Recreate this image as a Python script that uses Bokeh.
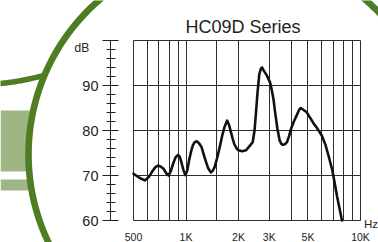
import math
import numpy as np
from bokeh.plotting import figure
from bokeh.models import (LinearAxis, LogAxis, FixedTicker, SingleIntervalTicker, Label,
                          PolyAnnotation, Range1d, Grid)
from bokeh.embed import file_html
from bokeh.resources import INLINE

# ---- data ----
freq_hz = [500, 540, 580, 610, 636, 665, 690, 715, 743, 770, 795, 818, 843, 870,
           900, 920, 940, 965, 990, 1015, 1040, 1070, 1094, 1120, 1152, 1190,
           1228, 1260, 1295, 1340, 1387, 1420, 1460, 1510, 1560, 1610, 1660,
           1720, 1765, 1810, 1850, 1890, 1950, 2000, 2100, 2210, 2330, 2410,
           2470, 2510, 2570, 2630, 2690, 2730, 2800, 2910, 3030, 3100, 3170,
           3240, 3340, 3440, 3520, 3600, 3700, 3790, 3900, 4000, 4150, 4300,
           4450, 4550, 4700, 4900, 5150, 5400, 5600, 6000, 6300, 6600, 6900,
           7100, 7350, 7600, 7830]
level_db = [70.4, 69.5, 68.9, 69.6, 70.7, 71.8, 72.2, 72.0, 71.5, 70.5, 70.0,
            71.0, 72.6, 74.0, 74.6, 74.2, 73.0, 71.3, 70.1, 71.0, 73.3, 75.4,
            76.7, 77.4, 77.6, 77.1, 76.3, 74.8, 73.3, 71.6, 70.7, 71.0, 71.9,
            74.0, 76.3, 78.8, 80.7, 82.2, 81.2, 79.6, 78.2, 77.0, 76.0, 75.6,
            75.4, 75.6, 76.7, 77.4, 80.0, 83.3, 88.5, 92.5, 93.8, 94.0, 93.2,
            92.2, 90.7, 89.0, 87.0, 84.1, 80.4, 77.8, 77.0, 76.8, 77.0, 77.4,
            78.8, 80.4, 82.0, 83.3, 84.6, 85.0, 84.6, 84.1, 82.8, 81.5, 80.7,
            78.9, 76.8, 74.0, 71.1, 68.5, 65.2, 62.5, 60.0]

x_major = [500, 1000, 2000, 3000, 5000, 10000]
x_major_labels = ["500", "1K", "2K", "3K", "5K", "10K"]
x_minor = [600, 700, 800, 900, 1500, 4000, 6000, 7000, 8000, 9000]
y_lines = [60, 70, 80, 90, 100]
title_text = "HC09D Series"
x_unit = "Hz"
y_unit = "dB"

FONT = "Liberation Sans"
INK = "#222222"
GRID = "#2e2e2e"
DARK_GREEN = "#4f7d24"
LIGHT_GREEN = "#9db684"

# ---- layout (pixel geometry of the reference) ----
W, H = 378, 242
PX_LEFT, PX_RIGHT = 133, 360    # x of 500 Hz and 10 kHz
PY_TOP, PY_BOT = 40, 220        # y of 100 dB and 60 dB
dec = (PX_RIGHT - PX_LEFT) / math.log10(10000 / 500)
x0 = 10 ** (math.log10(500) - PX_LEFT / dec)
x1 = 10 ** (math.log10(10000) + (W - PX_RIGHT) / dec)
ppd = (PY_BOT - PY_TOP) / 40.0
y0 = 60 - (H - PY_BOT) / ppd
y1 = 100 + PY_TOP / ppd
yaxis_x = 10 ** (math.log10(500) - (PX_LEFT - 110) / dec)

p = figure(width=W, height=H, x_axis_type="log",
           x_range=Range1d(x0, x1), y_range=Range1d(y0, y1),
           x_axis_location=None, y_axis_location=None,
           output_backend="svg", toolbar_location=None,
           min_border_left=0, min_border_right=0, min_border_top=0, min_border_bottom=0)
p.outline_line_color = None
p.background_fill_color = "white"
p.border_fill_color = "white"
p.renderers = [r for r in p.renderers if not isinstance(r, Grid)]
p.center = [c for c in p.center if not isinstance(c, Grid)]

# grids limited to the chart box
xt = FixedTicker(ticks=x_major, minor_ticks=x_minor)
has_cross = "cross_bounds" in Grid.properties()
xg = Grid(dimension=0, ticker=xt,
          grid_line_color=GRID, grid_line_width=1,
          minor_grid_line_color=GRID, minor_grid_line_width=1)
yg = Grid(dimension=1, ticker=FixedTicker(ticks=y_lines),
          grid_line_color=GRID, grid_line_width=1)
if has_cross:
    xg.cross_bounds = (60, 100)
    yg.cross_bounds = (500, 10000)
p.add_layout(xg, "center")
p.add_layout(yg, "center")
if not has_cross:
    allx = x_major + x_minor
    p.segment(x0=allx, y0=[60] * len(allx), x1=allx, y1=[100] * len(allx),
              line_color=GRID, line_width=1)
    p.segment(x0=[500] * len(y_lines), y0=y_lines, x1=[10000] * len(y_lines), y1=y_lines,
              line_color=GRID, line_width=1)
    xg.visible = False
    yg.visible = False

# x axis: labels only, at the 60 dB line
xa = LogAxis(ticker=xt, fixed_location=60, bounds=(500, 10000))
xa.major_label_overrides = {float(v): s for v, s in zip(x_major, x_major_labels)}
xa.axis_line_color = None
xa.major_tick_line_color = None
xa.minor_tick_line_color = None
xa.major_tick_out = 0
xa.major_tick_in = 0
xa.minor_tick_out = 0
xa.minor_tick_in = 0
xa.major_label_standoff = 10
xa.major_label_text_font = FONT
xa.major_label_text_font_size = "10.5px"
xa.major_label_text_color = INK
p.add_layout(xa, "below")

# y axis, detached to the left of the chart box
ya = LinearAxis(ticker=SingleIntervalTicker(interval=10, num_minor_ticks=5),
                fixed_location=yaxis_x, bounds=(60, 100))
ya.major_label_overrides = {100: ""}
ya.axis_line_color = INK
ya.axis_line_width = 1
ya.major_tick_line_color = INK
ya.minor_tick_line_color = INK
ya.major_tick_in = 8
ya.major_tick_out = 8
ya.minor_tick_in = 5
ya.minor_tick_out = 4
ya.major_label_standoff = 4
ya.major_label_text_font = FONT
ya.major_label_text_font_size = "14.5px"
ya.major_label_text_color = INK
p.add_layout(ya, "left")

# response curve
p.line(freq_hz, level_db, line_width=2.6, line_color="#111111",
       line_join="round", line_cap="round")


# ---- decorations (screen units: from frame left / frame bottom) ----
def sx(px):
    return [float(v) for v in px]


def sy(py):
    return [H - float(v) for v in py]


for (ya0, ya1) in [(110, 171), (179, 190)]:
    xs = [0, 30, 30, 0]
    ys = [ya0, ya0, ya1, ya1]
    p.add_layout(PolyAnnotation(xs=sx(xs), ys=sy(ys), xs_units="screen", ys_units="screen",
                                fill_color=LIGHT_GREEN, fill_alpha=1.0, line_color=None,
                                level="underlay"))

cx, cy, r, half = 232.0, 154.0, 204.0, 3.3
th = np.radians(np.linspace(30, 265, 220))
ox = cx + (r + half) * np.cos(th)
oy = cy - (r + half) * np.sin(th)
ix = cx + (r - half) * np.cos(th[::-1])
iy = cy - (r - half) * np.sin(th[::-1])
p.add_layout(PolyAnnotation(xs=sx(np.concatenate([ox, ix])), ys=sy(np.concatenate([oy, iy])),
                            xs_units="screen", ys_units="screen",
                            fill_color=DARK_GREEN, fill_alpha=1.0, line_color=None,
                            level="underlay"))

bxs = np.linspace(-4, 44, 40)
bys = 83 - 0.1 * bxs - 0.002 * bxs ** 2
bx = np.concatenate([bxs, bxs[::-1]])
by = np.concatenate([bys - 2.8, (bys + 2.8)[::-1]])
p.add_layout(PolyAnnotation(xs=sx(bx), ys=sy(by), xs_units="screen", ys_units="screen",
                            fill_color=DARK_GREEN, fill_alpha=1.0, line_color=None,
                            level="underlay"))

# texts
p.add_layout(Label(x=242.5, y=H - 26, x_units="screen", y_units="screen",
                   text=title_text, text_align="center", text_baseline="alphabetic",
                   text_font=FONT, text_font_size="18px", text_color=INK))
p.add_layout(Label(x=74, y=H - 47, x_units="screen", y_units="screen",
                   text=y_unit, text_align="left", text_baseline="alphabetic",
                   text_font=FONT, text_font_size="12px", text_color=INK))
p.add_layout(Label(x=363.5, y=H - 223, x_units="screen", y_units="screen",
                   text=x_unit, text_align="left", text_baseline="alphabetic",
                   text_font=FONT, text_font_size="11.5px", text_color=INK))

open("out.html", "w").write(file_html(p, INLINE))
